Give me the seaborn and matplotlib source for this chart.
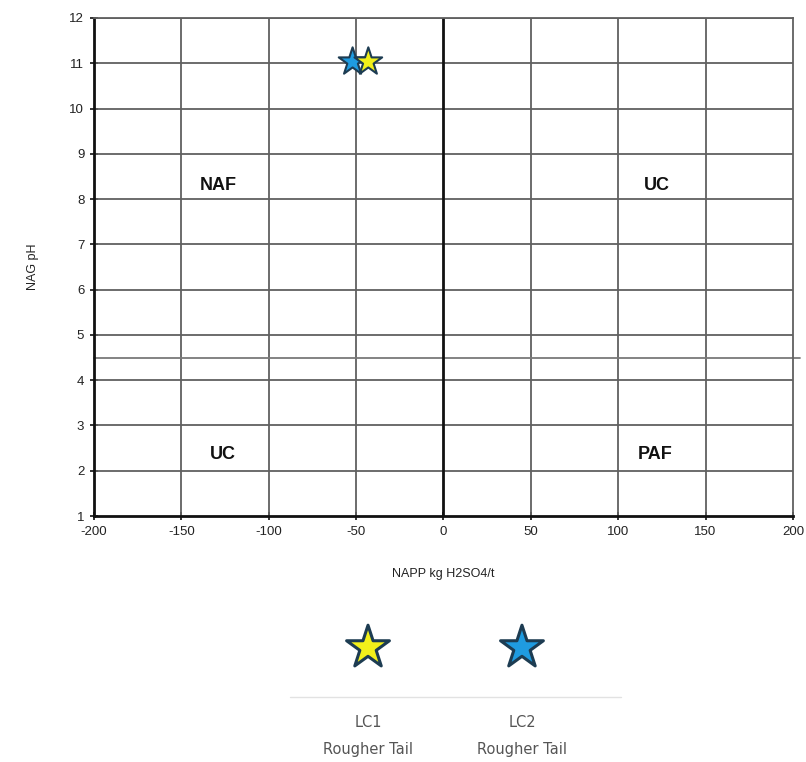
import matplotlib
matplotlib.use("Agg")
import matplotlib.pyplot as plt
import seaborn as sns
import pandas as pd

# Sample data: net acid production potential vs NAG pH
samples = ["LC1", "LC2"]
sample_desc = ["Rougher Tail", "Rougher Tail"]
napp = [-43, -52]
nag_ph = [11.03, 11.03]
fill_colors = ["#f2f01a", "#1f9be0"]
edge_color = "#1d3c52"

# Classification zone labels
zone_names = ["NAF", "UC", "UC", "PAF"]
zone_x = [-129, 122, -126, 121]
zone_y = [8.3, 8.3, 2.35, 2.35]

x_ticks = [-200, -150, -100, -50, 0, 50, 100, 150, 200]
y_ticks = list(range(1, 13))
ph_threshold = 4.5

sns.set_style("white")
plt.rcParams["font.family"] = ["Liberation Sans", "DejaVu Sans"]

fig = plt.figure(figsize=(8.06, 7.62), dpi=100)
ax = fig.add_axes([0.1166, 0.3228, 0.8672, 0.6536])

df = pd.DataFrame({"NAPP": napp[::-1], "pH": nag_ph[::-1], "sample": samples[::-1]})
# draw LC2 first so LC1 sits on top
sns.scatterplot(data=df, x="NAPP", y="pH", hue="sample",
                palette=dict(zip(samples, fill_colors)), marker="*", s=440,
                edgecolor=edge_color, linewidth=1.5, legend=False, ax=ax, zorder=5)

ax.set_xlim(-200, 200)
ax.set_ylim(1, 12)
ax.set_xticks(x_ticks)
ax.set_yticks(y_ticks)
ax.set_xticklabels([str(v) for v in x_ticks], fontsize=9.5, color="#222222")
ax.set_yticklabels([str(v) for v in y_ticks], fontsize=9.5, color="#222222")

for v in x_ticks[1:-1]:
    if v == 0:
        continue
    ax.axvline(v, color="#606060", lw=1.3, zorder=1)
for v in y_ticks[1:]:
    ax.axhline(v, color="#606060", lw=1.3, zorder=1)
ax.axvline(0, color="#111111", lw=2.0, zorder=2)
ax.axhline(ph_threshold, xmin=0, xmax=1.01, color="#7a7a7a", lw=1.3, zorder=1, clip_on=False)

for sp in ["left", "bottom"]:
    ax.spines[sp].set_color("#111111")
    ax.spines[sp].set_linewidth(2.0)
for sp in ["top", "right"]:
    ax.spines[sp].set_color("#606060")
    ax.spines[sp].set_linewidth(1.3)

ax.tick_params(axis="both", direction="inout", length=6, width=1.2, color="#111111",
               left=True, bottom=True, pad=4)

ax.set_xlabel("NAPP kg H2SO4/t", fontsize=9, color="#222222", labelpad=22)
ax.set_ylabel("NAG pH", fontsize=9, color="#222222", labelpad=22)

for name, x, y in zip(zone_names, zone_x, zone_y):
    ax.text(x, y, name, ha="center", va="center", fontsize=13, fontweight="bold",
            color="#111111")

# Legend panel below the chart
lax = fig.add_axes([0.0, 0.0, 1.0, 0.2])
lax.set_xlim(0, 1)
lax.set_ylim(0, 1)
lax.axis("off")
leg_x = [0.4566, 0.6476]
ldf = pd.DataFrame({"x": leg_x, "y": [0.75, 0.75], "sample": samples})
sns.scatterplot(data=ldf, x="x", y="y", hue="sample",
                palette=dict(zip(samples, fill_colors)), marker="*", s=1050,
                edgecolor=edge_color, linewidth=2.2, legend=False, ax=lax)
lax.set_xlabel("")
lax.set_ylabel("")
lax.plot([0.36, 0.77], [0.427, 0.427], color="#e2e2e2", lw=1.0)
for x, lab, desc in zip(leg_x, samples, sample_desc):
    lax.text(x, 0.262, lab, ha="center", va="center", fontsize=10.5, color="#555555",
             family=["DejaVu Sans"])
    lax.text(x, 0.079, desc, ha="center", va="center", fontsize=10.5, color="#555555",
             family=["DejaVu Sans"])

fig.savefig("out.png", dpi=100, facecolor="white")
